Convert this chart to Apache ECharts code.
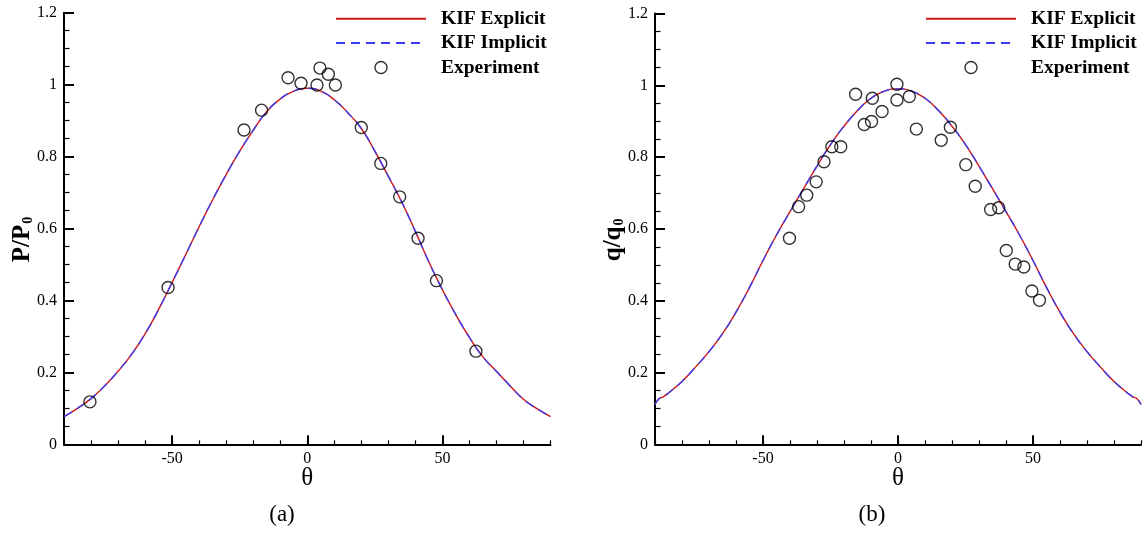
<!DOCTYPE html>
<html>
<head>
<meta charset="utf-8">
<script src="https://cdn.jsdelivr.net/npm/echarts@6/dist/echarts.min.js"></script>
<style>
  html, body { margin: 0; padding: 0; background: #fff; }
  #chart { width: 1146px; height: 537px; }
</style>
</head>
<body>
<div id="chart"></div>
<script>
// ---- Panel (a): pressure ratio P/P0 along the surface angle theta ----
const thetaA = [-90, -85, -80, -75, -70, -65, -60, -55, -50, -45, -40, -35, -30, -25, -20, -15, -10, -5, 0,
                5, 10, 15, 20, 25, 30, 35, 40, 45, 50, 55, 60, 65, 70, 75, 80, 85, 90];
const explicitA = [0.077, 0.100, 0.127, 0.162, 0.203, 0.250, 0.307, 0.375, 0.450, 0.527, 0.605, 0.680, 0.750, 0.815, 0.873, 0.925, 0.960, 0.982, 0.990,
                   0.982, 0.958, 0.922, 0.878, 0.815, 0.745, 0.673, 0.592, 0.507, 0.430, 0.360, 0.297, 0.243, 0.203, 0.163, 0.125, 0.099, 0.077];
const implicitA = [0.077, 0.100, 0.127, 0.162, 0.203, 0.250, 0.307, 0.375, 0.450, 0.527, 0.605, 0.680, 0.750, 0.815, 0.873, 0.925, 0.960, 0.982, 0.990,
                   0.982, 0.958, 0.922, 0.878, 0.815, 0.745, 0.673, 0.592, 0.507, 0.430, 0.360, 0.297, 0.243, 0.203, 0.163, 0.125, 0.099, 0.077];
const expThetaA = [-80.4, -51.5, -23.4, -16.9, -7.1, -2.3, 3.6, 4.7, 7.8, 10.4, 20.0, 27.2, 34.2, 41.0, 47.8, 62.4];
const expValA   = [0.118, 0.436, 0.874, 0.929, 1.019, 1.004, 0.999, 1.046, 1.029, 0.999, 0.881, 0.781, 0.688, 0.573, 0.455, 0.259];

// ---- Panel (b): heat flux ratio q/q0 along the surface angle theta ----
const thetaB = [-90, -88.5, -87, -85, -80, -75, -70, -65, -60, -55, -50, -45, -40, -35, -30, -25, -20, -15, -10, -5, 0,
                5, 10, 15, 20, 25, 30, 35, 40, 45, 50, 55, 60, 65, 70, 75, 80, 85, 87, 88.5, 90];
const explicitB = [0.111, 0.127, 0.132, 0.143, 0.175, 0.215, 0.258, 0.308, 0.368, 0.437, 0.512, 0.583, 0.648, 0.712, 0.775, 0.835, 0.886, 0.930, 0.964, 0.984, 0.990,
                   0.984, 0.964, 0.930, 0.886, 0.835, 0.775, 0.712, 0.648, 0.583, 0.512, 0.437, 0.368, 0.308, 0.258, 0.215, 0.175, 0.143, 0.132, 0.127, 0.111];
const implicitB = [0.111, 0.127, 0.132, 0.143, 0.175, 0.215, 0.258, 0.308, 0.368, 0.437, 0.512, 0.583, 0.648, 0.712, 0.775, 0.835, 0.886, 0.930, 0.964, 0.984, 0.990,
                   0.984, 0.964, 0.930, 0.886, 0.835, 0.775, 0.712, 0.648, 0.583, 0.512, 0.437, 0.368, 0.308, 0.258, 0.215, 0.175, 0.143, 0.132, 0.127, 0.111];
const expThetaB = [-40.2, -36.8, -33.8, -30.3, -27.4, -24.5, -21.2, -15.7, -12.5, -9.8, -9.5, -5.9, -0.4, -0.4, 4.2, 6.8,
                   16.0, 19.4, 25.1, 28.6, 34.3, 37.3, 40.1, 43.4, 46.6, 49.6, 52.4];
const expValB   = [0.574, 0.662, 0.694, 0.731, 0.787, 0.829, 0.829, 0.975, 0.891, 0.899, 0.964, 0.927, 1.003, 0.959, 0.969, 0.878,
                   0.847, 0.883, 0.779, 0.719, 0.654, 0.659, 0.540, 0.502, 0.494, 0.427, 0.401];

// ---- Axis ticks and labels ----
const xMajorTicks = [-50, 0, 50];
const xMinorTicks = [-90, -80, -70, -60, -50, -40, -30, -20, -10, 0, 10, 20, 30, 40, 50, 60, 70, 80, 90];
const yTicks = [0, 0.2, 0.4, 0.6, 0.8, 1, 1.2];
const seriesNames = ['KIF Explicit', 'KIF Implicit', 'Experiment'];
const panelCaptions = ['(a)', '(b)'];

const SERIF = '"Liberation Serif", "Times New Roman", serif';
const RED = '#d01414';
const BLUE = '#3c3cf0';

const chart = echarts.init(document.getElementById('chart'), null, { renderer: 'canvas' });

const grids = [
  { left: 64, top: 12.7, width: 486.5, height: 431.6 },
  { left: 655, top: 13.5, width: 486, height: 430.8 }
];

function xAxesFor(gridIndex) {
  return [
    {
      type: 'value', gridIndex, min: -90, max: 90, interval: 10, position: 'bottom',
      name: 'θ', nameLocation: 'middle', nameGap: 22, nameMoveOverlap: false,
      nameTextStyle: { fontFamily: SERIF, fontSize: 25, color: '#000' },
      axisLine: { show: true, onZero: false, lineStyle: { color: '#000', width: 2 } },
      axisTick: { show: true, inside: true, length: 4, customValues: xMinorTicks, lineStyle: { color: '#000', width: 1.2 } },
      axisLabel: { show: true, customValues: xMajorTicks, margin: 6, fontFamily: SERIF, fontSize: 16, color: '#000' },
      splitLine: { show: false }
    },
    {
      type: 'value', gridIndex, min: -90, max: 90, interval: 10, position: 'bottom',
      axisLine: { show: false, onZero: false },
      axisTick: { show: true, inside: true, length: 9, customValues: xMajorTicks, lineStyle: { color: '#000', width: 2 } },
      axisLabel: { show: false },
      splitLine: { show: false }
    }
  ];
}

function yAxisFor(gridIndex, nameMain, nameSub) {
  return {
    type: 'value', gridIndex, min: 0, max: 1.2, interval: 0.2,
    name: nameMain + '{sub|' + nameSub + '}', nameLocation: 'middle', nameRotate: 90, nameGap: 29, nameMoveOverlap: false,
    nameTextStyle: {
      fontFamily: SERIF, fontSize: 25, fontWeight: 'bold', color: '#000', padding: [0, 22, 0, 0],
      rich: { sub: { fontFamily: SERIF, fontSize: 14, fontWeight: 'bold', color: '#000', verticalAlign: 'bottom', padding: [9, 0, 0, 1] } }
    },
    axisLine: { show: true, onZero: false, lineStyle: { color: '#000', width: 2 } },
    axisTick: { show: true, inside: true, length: 10, customValues: yTicks, lineStyle: { color: '#000', width: 2 } },
    minorTick: { show: true, splitNumber: 4, length: 5.5, lineStyle: { color: '#000', width: 1.2 } },
    axisLabel: { show: true, customValues: yTicks, margin: 7, fontFamily: SERIF, fontSize: 16, color: '#000' },
    splitLine: { show: false },
    minorSplitLine: { show: false }
  };
}

function pairs(xs, ys) { return xs.map((x, i) => [x, ys[i]]); }

function curveSeries(name, xAxisIndex, yAxisIndex, xs, ys, color, dashed, z) {
  return {
    name, type: 'line', xAxisIndex, yAxisIndex, data: pairs(xs, ys),
    symbol: 'none', smooth: 0.5, z, silent: true,
    lineStyle: { color, width: 1.4, type: dashed ? [9, 6] : 'solid' },
    itemStyle: { color }
  };
}

function scatterSeries(xAxisIndex, yAxisIndex, xs, ys) {
  return {
    name: seriesNames[2], type: 'scatter', xAxisIndex, yAxisIndex, data: pairs(xs, ys),
    symbol: 'circle', symbolSize: 12, z: 5, silent: true,
    itemStyle: { color: 'rgba(0,0,0,0)', borderColor: '#000', borderWidth: 1.4 }
  };
}

function legendAt(left) {
  return {
    left, top: 8.7, padding: 0, orient: 'vertical', selectedMode: false,
    itemWidth: 90, itemHeight: 12, itemGap: 4.4,
    data: [
      { name: seriesNames[0], itemStyle: { opacity: 0 } },
      { name: seriesNames[1], itemStyle: { opacity: 0 } },
      { name: seriesNames[2], itemStyle: { color: 'rgba(0,0,0,0)', borderColor: '#000', borderWidth: 1.4 } }
    ],
    textStyle: { fontFamily: SERIF, fontSize: 19.5, fontWeight: 'bold', color: '#000', padding: [0, 0, 0, 10] }
  };
}

const option = {
  animation: false,
  backgroundColor: '#fff',
  grid: grids,
  xAxis: [...xAxesFor(0), ...xAxesFor(1)],
  yAxis: [yAxisFor(0, 'P/P', '0'), yAxisFor(1, 'q/q', '0')],
  legend: [legendAt(335), legendAt(925)],
  series: [
    curveSeries(seriesNames[0], 0, 0, thetaA, explicitA, RED, false, 2),
    curveSeries(seriesNames[1], 0, 0, thetaA, implicitA, BLUE, true, 3),
    scatterSeries(0, 0, expThetaA, expValA),
    curveSeries(seriesNames[0], 2, 1, thetaB, explicitB, RED, false, 2),
    curveSeries(seriesNames[1], 2, 1, thetaB, implicitB, BLUE, true, 3),
    scatterSeries(2, 1, expThetaB, expValB)
  ],
  graphic: [
    { type: 'text', x: 282, y: 515, style: { text: panelCaptions[0], fontFamily: SERIF, fontSize: 23, fill: '#000', align: 'center', verticalAlign: 'middle' } },
    { type: 'text', x: 872, y: 515, style: { text: panelCaptions[1], fontFamily: SERIF, fontSize: 23, fill: '#000', align: 'center', verticalAlign: 'middle' } }
  ]
};

chart.setOption(option);
</script>
</body>
</html>
